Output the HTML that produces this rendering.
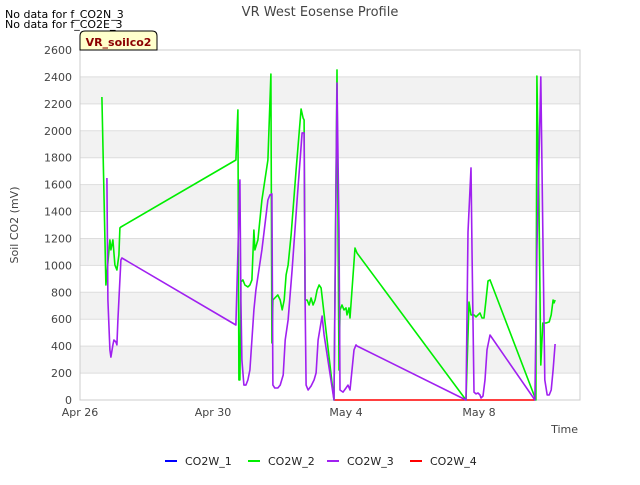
<!DOCTYPE html>
<html><head><meta charset="utf-8"><style>
body{margin:0;background:#fff;font-family:"Liberation Sans","DejaVu Sans",sans-serif}
</style></head><body>
<svg id="chart" width="640" height="480" xmlns="http://www.w3.org/2000/svg" style="font-family:'DejaVu Sans','Liberation Sans',sans-serif">
<text x="320" y="16" text-anchor="middle" font-size="13" fill="#444">VR West Eosense Profile</text>
<text x="5" y="18" font-size="11" fill="#000">No data for f_CO2N_3</text>
<text x="5" y="28" font-size="11" fill="#000">No data for f_CO2E_3</text>
<g id="bands"></g><g id="grid"></g>
<rect x="80" y="50" width="500" height="350" fill="none" stroke="#ccc"/>
<g id="series"></g>
<g id="yticks"></g><g id="xticks"></g>
<path d="M80,50 V36 Q80,31 85,31 H152 Q157,31 157,36 V50 Z" fill="#ffffcc" stroke="#000" stroke-width="1"/>
<text x="118.5" y="46" text-anchor="middle" font-size="11" font-weight="bold" fill="#8b0000">VR_soilco2</text>
<text transform="translate(18,225) rotate(-90)" text-anchor="middle" font-size="11" fill="#444">Soil CO2 (mV)</text>
<text x="578" y="433" text-anchor="end" font-size="11" fill="#444">Time</text>
<g id="legend"></g>
</svg>
<script>
const yTicks=[0,200,400,600,800,1000,1200,1400,1600,1800,2000,2200,2400,2600];
const xTickDays=[0,4,8,12];
const xTickLabels=["Apr 26","Apr 30","May 4","May 8"];
const seriesNames=["CO2W_1","CO2W_2","CO2W_3","CO2W_4"];
const seriesColors=["#0000ff","#00ee00","#a020f0","#ff0000"];
const co2w1=[];
const co2w2Days=[.66,.78,.90,.93,.99,1.05,1.11,1.17,1.20,1.23,4.69,4.75,4.78,4.81,4.84,4.90,4.96,5.05,5.11,5.17,5.23,5.26,5.35,5.47,5.65,5.74,5.77,5.80,5.89,5.95,6.02,6.08,6.14,6.20,6.26,6.35,6.50,6.65,6.71,6.74,6.77,6.83,6.89,6.95,7.01,7.07,7.13,7.19,7.25,7.64,7.73,7.79,7.82,7.88,7.94,8.00,8.03,8.09,8.12,8.18,8.27,8.33,11.61,11.70,11.76,11.85,11.91,11.97,12.03,12.09,12.15,12.21,12.27,12.33,13.71,13.74,13.80,13.86,13.92,14.02,14.11,14.17,14.23,14.26,14.29];
const co2w2Vals=[2251,854,1189,1115,1189,1003,966,1077,1278,1285,1783,2155,149,149,877,892,854,840,854,892,1263,1115,1189,1486,1783,2422,424,743,765,780,743,669,743,929,1003,1226,1709,2162,2095,2080,743,743,706,758,706,743,817,854,832,0,2452,223,669,706,669,684,632,684,609,817,1129,1092,0,728,632,632,617,632,646,609,609,743,884,892,0,2407,1486,260,572,572,580,632,743,721,743];
const co2w3Days=[.81,.84,.90,.93,.99,1.02,1.08,1.11,1.14,1.20,1.23,1.26,4.69,4.81,4.84,4.87,4.93,4.99,5.05,5.11,5.17,5.23,5.29,5.47,5.65,5.71,5.77,5.80,5.86,5.95,6.02,6.11,6.17,6.26,6.38,6.53,6.68,6.74,6.77,6.80,6.86,6.95,7.04,7.10,7.16,7.28,7.34,7.64,7.73,7.79,7.82,7.91,8.00,8.06,8.12,8.18,8.24,8.30,8.33,11.61,11.67,11.76,11.79,11.85,11.91,11.97,12.03,12.06,12.12,12.18,12.24,12.33,13.68,13.74,13.86,13.92,13.98,14.05,14.11,14.17,14.23,14.29];
const co2w3Vals=[1649,743,372,319,409,446,431,409,594,892,1040,1055,557,1635,743,297,111,111,149,223,446,669,817,1115,1486,1523,1531,111,89,89,111,186,446,594,966,1486,1984,1984,743,111,74,104,149,201,446,624,483,0,2355,1263,74,59,89,111,74,223,372,409,401,0,1248,1724,1115,59,45,52,37,15,30,149,372,483,0,1115,2400,1263,149,37,37,74,223,416];
const co2w4Days=[7.64,13.68];
const co2w4Vals=[0,0];

const NS="http://www.w3.org/2000/svg";
const X0=80,X1=580,Y0=400,Y1=50,DAYPX=33.25,YMAX=2600;
function xs(d){return X0+d*DAYPX;}
function ys(v){return Y0-(v/YMAX)*(Y0-Y1);}
function mk(tag,attrs,parent){const e=document.createElementNS(NS,tag);for(const k in attrs)e.setAttribute(k,attrs[k]);parent.appendChild(e);return e;}
const bands=document.getElementById('bands'),grid=document.getElementById('grid');
for(let i=0;i<yTicks.length-1;i++){
  if(i%2===1){const r=mk('rect',{x:X0,y:ys(yTicks[i+1]),width:X1-X0,height:ys(yTicks[i])-ys(yTicks[i+1]),fill:'#f2f2f2'},bands);
  
  }
}
const yt=document.getElementById('yticks');
yTicks.forEach(v=>{
  const l=mk('line',{x1:X0,x2:X1,y1:ys(v),y2:ys(v),stroke:'#ddd'},grid);
  
  
  const t=mk('text',{x:72,y:ys(v)+4,'text-anchor':'end','font-size':11,fill:'#444'},yt);
  t.textContent=v;
  
  
});
const xt=document.getElementById('xticks');
xTickDays.forEach((d,i)=>{
  const t=mk('text',{x:xs(d),y:416,'text-anchor':'middle','font-size':11,fill:'#444'},xt);
  t.textContent=xTickLabels[i];
  
  
});
const sg=document.getElementById('series');
function line(days,vals,color,name){
  if(!days.length)return;
  const pts=days.map((d,i)=>xs(d).toFixed(1)+','+ys(vals[i]).toFixed(1)).join(' ');
  const p=mk('polyline',{points:pts,fill:'none',stroke:color,'stroke-width':1.6,'stroke-linejoin':'round'},sg);
  
  
}
line(co2w4Days,co2w4Vals,seriesColors[3],'series-co2w-4');
line(co2w2Days,co2w2Vals,seriesColors[1],'series-co2w-2');
line(co2w3Days,co2w3Vals,seriesColors[2],'series-co2w-3');
const lg=document.getElementById('legend');
const lx=[165,248,327,410];
seriesNames.forEach((n,i)=>{
  const l=mk('line',{x1:lx[i],x2:lx[i]+12,y1:461,y2:461,stroke:seriesColors[i],'stroke-width':2},lg);
  
  
  const t=mk('text',{x:lx[i]+20,y:465,'font-size':11,fill:'#222'},lg);
  t.textContent=n;
  
  
});
</script>
</body></html>
